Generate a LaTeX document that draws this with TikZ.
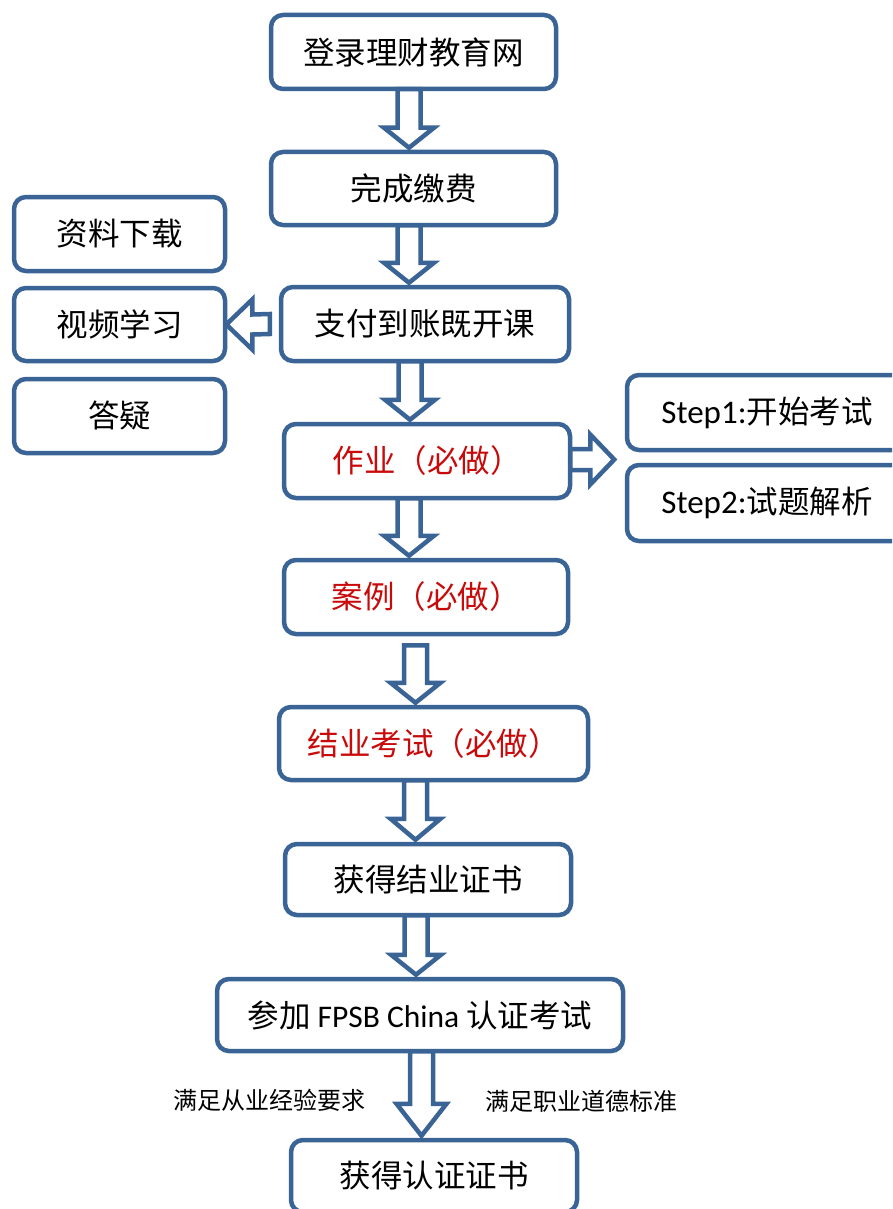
\documentclass[tikz,border=0pt]{standalone}
\usepackage{fontspec}
\setmainfont{Noto Sans CJK SC}
\newfontfamily\calfont{Carlito}
\usetikzlibrary{calc}
\definecolor{bord}{RGB}{58,99,150}
\definecolor{redtxt}{RGB}{200,10,10}
\tikzset{
  box/.style={draw=bord, line width=4.5pt, rounded corners=12pt, fill=white,
    inner sep=0pt, align=center, font=\fontsize{31.5}{36}\selectfont},
  redbox/.style={box, text=redtxt},
  note/.style={inner sep=0pt, font=\fontsize{24}{28}\selectfont},
  blockarrow/.style={draw=bord, line width=4.5pt, fill=white, line join=miter},
}
% #1 from node, #2 to node, #3 x-coordinate name, #4 top offset, #5 head length
\newcommand\downblock[5]{%
  \draw[blockarrow]
    ($(#1.south -| #3)+(-11.5,#4)$) -- ($(#2.north -| #3)+(-11.5,-#5)$)
    -- ($(#2.north -| #3)+(-25,-#5)$) -- ($(#2.north -| #3)+(0,-2)$)
    -- ($(#2.north -| #3)+(25,-#5)$) -- ($(#2.north -| #3)+(11.5,-#5)$)
    -- ($(#1.south -| #3)+(11.5,#4)$) -- cycle;}
\begin{document}
\begin{tikzpicture}[x=1pt,y=-1pt]
\useasboundingbox (0,0) rectangle (892,1209);
\clip (0,0) rectangle (892,1209);
% main column
\node[box, minimum width=285pt, minimum height=74pt] (b1) at (413.5,52) {登录理财教育网};
\node[box, minimum width=285pt, minimum height=73pt] (b2) at (413.5,188.5) {完成缴费};
\node[box, minimum width=288pt, minimum height=74pt] (b3) at (425,324) {支付到账既开课};
\node[redbox, minimum width=286pt, minimum height=74pt] (zy) at (427,461) {作业（必做）};
\node[redbox, minimum width=284pt, minimum height=74pt] (al) at (426,597) {案例（必做）};
\node[redbox, minimum width=309pt, minimum height=73pt] (jy) at (433.5,743.5) {结业考试（必做）};
\node[box, minimum width=286pt, minimum height=71pt] (hj) at (428,879.5) {获得结业证书};
\node[box, minimum width=406pt, minimum height=72pt] (cj) at (420,1015) {参加 {\calfont FPSB China} 认证考试};
\node[box, minimum width=286pt, minimum height=72pt] (rz) at (434,1176) {获得认证证书};
% left column
\node[box, minimum width=211pt, minimum height=74pt] (l1) at (119.5,234) {资料下载};
\node[box, minimum width=211pt, minimum height=73pt] (l2) at (119.5,324.5) {视频学习};
\node[box, minimum width=211pt, minimum height=74pt] (l3) at (119.5,416) {答疑};
% right column
\node[box, minimum width=280pt, minimum height=75pt] (s1) at (767,412.5) {{\calfont\fontsize{33}{36}\selectfont Step1:}开始考试};
\node[box, minimum width=280pt, minimum height=76pt] (s2) at (767,503) {{\calfont\fontsize{33}{36}\selectfont Step2:}试题解析};
% labels
\node[note] (n1) at (269,1100) {满足从业经验要求};
\node[note] (n2) at (581,1101) {满足职业道德标准};
% arrow x positions
\coordinate (x1) at (409,0);
\coordinate (x2) at (409,0);
\coordinate (x3) at (410,0);
\coordinate (x4) at (409,0);
\coordinate (x5) at (415.5,0);
\coordinate (x6) at (415.5,0);
\coordinate (x7) at (416,0);
\coordinate (x8) at (421.5,0);
% down block arrows
\downblock{b1}{b2}{x1}{-2}{22}
\downblock{b2}{b3}{x2}{-2}{22}
\downblock{b3}{zy}{x3}{-2}{22}
\downblock{zy}{al}{x4}{-2}{22}
\downblock{al}{jy}{x5}{9}{22}
\downblock{jy}{hj}{x6}{-2}{23}
\downblock{hj}{cj}{x7}{-2}{22}
\downblock{cj}{rz}{x8}{-2}{34}
% left block arrow (b3 -> l2)
\draw[blockarrow]
  ($(b3.west)+(-9,-10)$) -- ($(l2.east)+(25,-10)$) -- ($(l2.east)+(25,-25)$)
  -- ($(l2.east)+(-1,0)$) -- ($(l2.east)+(25,25)$) -- ($(l2.east)+(25,10)$)
  -- ($(b3.west)+(-9,10)$) -- cycle;
% right block arrow (zy -> steps)
\draw[blockarrow]
  ($(zy.east)+(-2,-12)$) -- ($(zy.east)+(18,-12)$) -- ($(zy.east)+(18,-26.5)$)
  -- ($(zy.east)+(42,-1.5)$) -- ($(zy.east)+(18,23.5)$) -- ($(zy.east)+(18,9)$)
  -- ($(zy.east)+(-2,9)$) -- cycle;
\end{tikzpicture}
\end{document}
